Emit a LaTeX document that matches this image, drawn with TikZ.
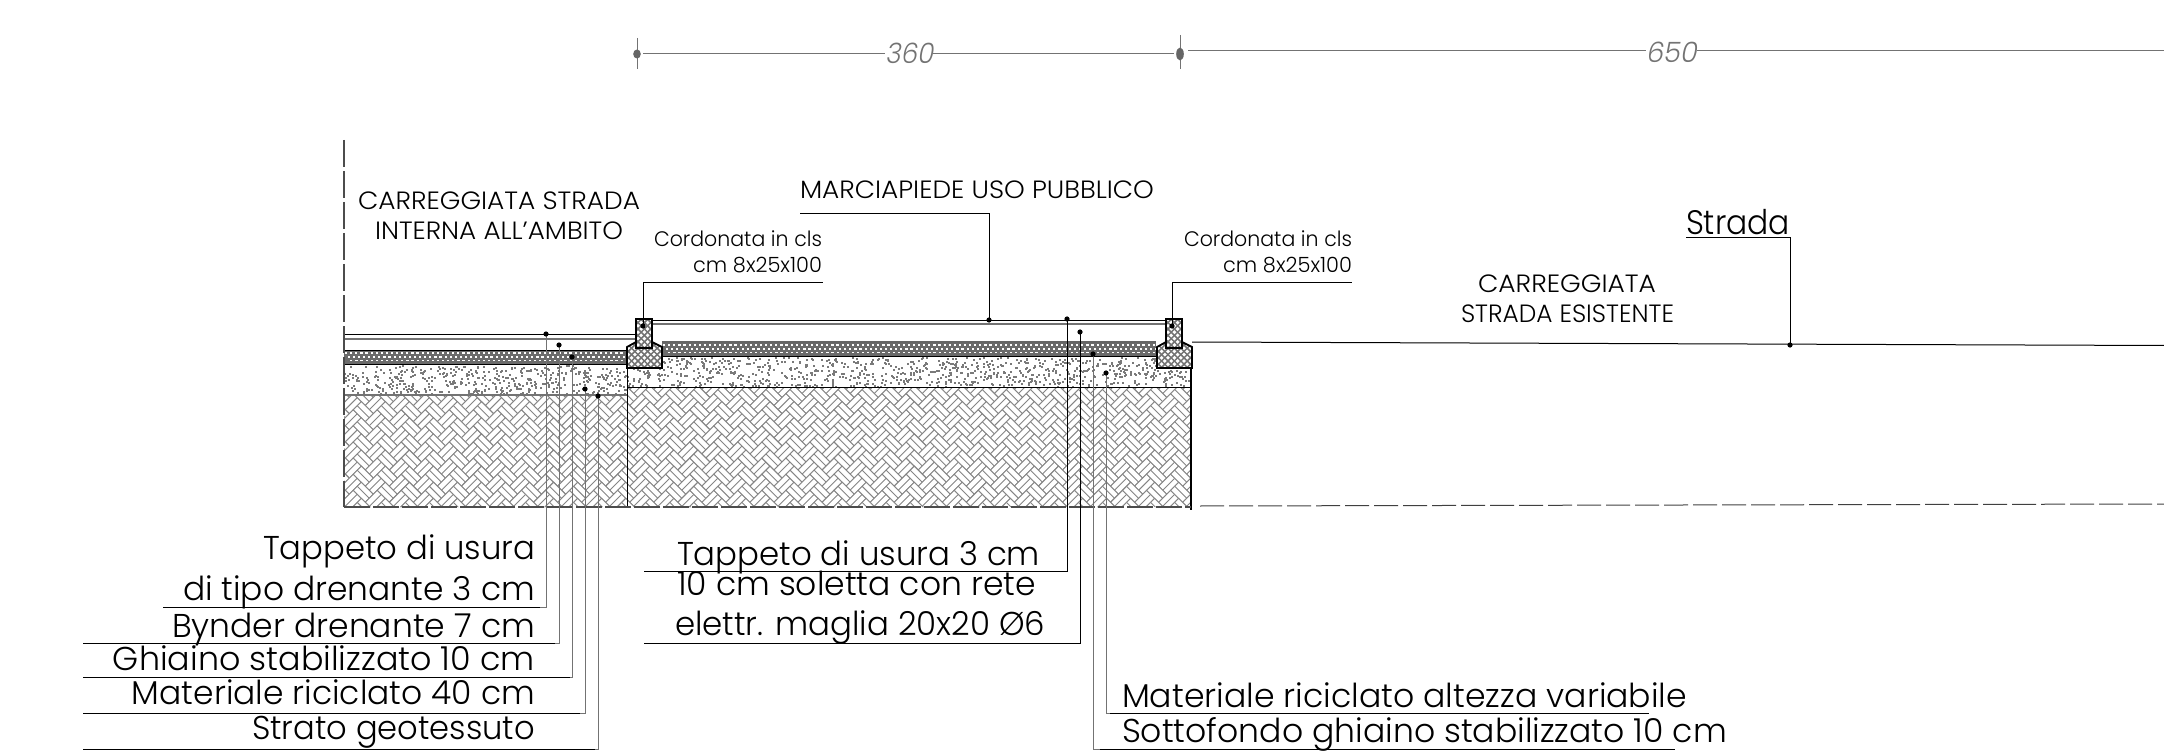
\documentclass[tikz,border=0pt]{standalone}
\usepackage{fontspec}
\usepackage{graphicx}
\setmainfont{Poppins Light}
\newfontfamily\dimfont[FakeSlant=0.2]{Poppins Light}
\newcommand\fw[3]{{\fontsize{#1}{#1}\selectfont\resizebox{#2pt}{\height}{#3}}}
\tikzset{
 lbl/.style={inner sep=0pt,outer sep=0pt,text=black},
 hbk/.style={draw=black!48,line width=0.9pt,fill=white},
 thin1/.style={draw=black,line width=0.9pt},
 graylin/.style={draw=black!55,line width=1.1pt},
 curb/.style={draw=black,line width=1.8pt},
 dimln/.style={draw=black!55,line width=1pt},
}
\begin{document}
\begin{tikzpicture}[x=1pt,y=-1pt]
\useasboundingbox (0,0) rectangle (2164,754);
% ---- herringbone (double bricks)
\def\Lb{17}\def\Wb{11.4}\def\Wh{5.7}
\begin{scope}
\clip (344,395) rectangle (627,507) (627,387) rectangle (1191,507);
\begin{scope}[shift={(770,450)},rotate=-45]
\foreach \a in {-7,...,7}{
 \foreach \b in {-21,...,21}{
  \pgfmathsetmacro\ox{\a*\Wb+\b*\Lb}
  \pgfmathsetmacro\oy{\a*\Wb-\b*\Lb}
   \draw[hbk] (\ox,\oy) rectangle ++(\Lb,\Wb);
   \draw[hbk] (\ox,\oy+\Wh) -- ++(\Lb,0);
   \draw[hbk] (\ox+\Lb,\oy+\Wb-\Lb) rectangle ++(\Wb,\Lb);
   \draw[hbk] (\ox+\Lb+\Wh,\oy+\Wb-\Lb) -- ++(0,\Lb);
 }}
\end{scope}
\end{scope}
% ---- gravel
\pgfmathsetseed{4217}
\foreach \i in {1,...,470}{
 \pgfmathsetmacro\gx{344+283*rnd}\pgfmathsetmacro\gy{365+29*rnd}
 \fill[black!52] (\gx,\gy) rectangle ++(2,2);
}
\foreach \i in {1,...,900}{
 \pgfmathsetmacro\gx{627+564*rnd}\pgfmathsetmacro\gy{357+29*rnd}
 \fill[black!52] (\gx,\gy) rectangle ++(2,2);
}
% ---- dark wearing layers
\fill[black!58] (344,350) rectangle (627,364);
\fill[black!58] (662,342) rectangle (1156,356);
\foreach \r in {0,1,2}{
 \pgfmathsetmacro\yy{352+\r*3.9}
 \pgfmathsetmacro\sh{\r*2.6}
 \foreach \c in {0,...,55}{\fill[white] (345+\sh+\c*5.1,\yy) rectangle ++(2.2,1.6);}
 \pgfmathsetmacro\yz{344+\r*3.9}
 \foreach \c in {0,...,96}{\fill[white] (663+\sh+\c*5.1,\yz) rectangle ++(2.2,1.6);}
}
% ---- layer lines
\draw[thin1] (344,350) -- (627,350);
\draw[thin1] (344,364) -- (627,364);
\draw[graylin] (344,395) -- (627,395);
\draw[graylin,draw=black!60] (662,342) -- (1156,342);
\draw[thin1] (662,356) -- (1156,356);
\draw[thin1] (627,387) -- (1191,387);
\draw[thin1] (344,334) -- (636,334);
\draw[graylin] (344,339) -- (636,339);
\draw[thin1] (652,320) -- (1165,320);
\draw[graylin] (652,324) -- (1165,324);
\draw[thin1] (627,368) -- (627,507);
\draw[line width=1.8pt,draw=black] (1191,347) -- (1191,510);
% ---- road on the right
\draw[draw=black,line width=1pt] (1192,342) -- (2164,345.5);
% ---- outline dashes
\draw[draw=black!70,line width=1.1pt,dash pattern=on 27pt off 4pt] (344,140) -- (344,507);
\draw[draw=black!70,line width=1.1pt,dash pattern=on 26pt off 3pt] (344,507) -- (1191,507);
\draw[draw=black!75,line width=1pt,dash pattern=on 24pt off 5pt] (1200,506) -- (2164,504);
% ---- kerbs
\newcommand\kerb[1]{%
 \begin{scope}[shift={(#1,0)}]
  \path[fill=white] (0,347)--(9,342)--(9,319)--(25,319)--(25,342)--(35,347)--(35,368)--(0,368)--cycle;
  \begin{scope}
   \clip (0,347)--(9,342)--(9,319)--(25,319)--(25,342)--(35,347)--(35,368)--(0,368)--cycle;
   \foreach \k in {-10,...,10}{
    \draw[black!55,line width=1.5pt] (\k*6.4-40,310) -- ++(70,70);
    \draw[black!55,line width=1.5pt] (\k*6.4+30,310) -- ++(-70,70);
   }
  \end{scope}
  \draw[curb,line join=miter] (9,342)--(0,347)--(0,368)--(35,368)--(35,347)--(25,342);
  \draw[curb] (9,319) rectangle (25,348);
 \end{scope}}
\kerb{627}
\kerb{1157}
% ---- named anchors for leaders
\coordinate (dA) at (546,334); \coordinate (eA) at (163,607);
\coordinate (dB) at (559,345); \coordinate (eB) at (83,643);
\coordinate (dC) at (572,357); \coordinate (eC) at (83,677);
\coordinate (dD) at (585,389); \coordinate (eD) at (83,713);
\coordinate (dE) at (598,396); \coordinate (eE) at (83,749);
\coordinate (dF) at (1067,319); \coordinate (eF) at (644,571);
\coordinate (dG) at (1080,332); \coordinate (eG) at (644,643);
\coordinate (dH) at (1093,354); \coordinate (eH) at (1675,749);
\coordinate (dI) at (1106,373); \coordinate (eI) at (1649,713);
\coordinate (dJ) at (989,320); \coordinate (eJ) at (800,214);
\coordinate (dK) at (643,326); \coordinate (eK) at (823,282);
\coordinate (dL) at (1172,326); \coordinate (eL) at (1352,282);
\coordinate (dM) at (1790,345); \coordinate (eM) at (1686,238);
\foreach \d/\e/\st in {dA/eA/black!55,dB/eB/black!55,dC/eC/black!55,dD/eD/black!55,dE/eE/black!55,dF/eF/black,dG/eG/black,dH/eH/black!55,dI/eI/black!55,dJ/eJ/black,dK/eK/black,dL/eL/black,dM/eM/black}{
 \draw[line width=1pt,draw=\st] (\d) |- (\e);
 \fill[black] (\d) circle (2.6);
}
\foreach \y/\xa/\xb in {607/163/540,643/83/555,677/83/570,713/83/580,749/83/595,571/644/1060,643/644/1075,749/1100/1675,713/1110/1649}{
 \draw[black,line width=0.9pt] (\xa,\y) -- (\xb,\y);
}
% ---- dimension line
\coordinate (t1) at (637,54); \coordinate (t2) at (1180,54); \coordinate (t3) at (2164,51);
\node[lbl,anchor=base,text=black!55] (n360) at (909,64) {\fontsize{28}{28}\dimfont\resizebox{48pt}{\height}{360}};
\node[lbl,anchor=base,text=black!55] (n650) at (1671,63) {\fontsize{28}{28}\dimfont\resizebox{51pt}{\height}{650}};
\draw[dimln] ([xshift=6pt]t1) -- (n360.west |- t1);
\draw[dimln] (n360.east |- t1) -- ([xshift=-6pt]t2);
\draw[dimln] ([xshift=8pt]t2 |- t3) -- (n650.west |- t3);
\draw[dimln] (n650.east |- t3) -- (t3);
\draw[dimln] (637,38) -- (637,69);
\draw[dimln] (1180,35) -- (1180,69);
\fill[black!60] (t1) ellipse (3.8 and 4.5);
\fill[black!60] (t2) ellipse (3.8 and 6.5);
% ---- texts
\node[lbl,anchor=base east] (a1) at (535,559) {\fw{33}{272}{Tappeto di usura}};
\node[lbl,anchor=base east] (a2) at (535,600) {\fw{33}{352}{di tipo drenante 3 cm}};
\node[lbl,anchor=base east] (a3) at (535,637) {\fw{33}{363}{Bynder drenante 7 cm}};
\node[lbl,anchor=base east] (a4) at (535,670) {\fw{33}{422}{Ghiaino stabilizzato 10 cm}};
\node[lbl,anchor=base east] (a5) at (535,704) {\fw{33}{403}{Materiale riciclato 40 cm}};
\node[lbl,anchor=base east] (a6) at (535,739) {\fw{33}{283}{Strato geotessuto}};
\node[lbl,anchor=base west] (b1) at (677,565) {\fw{33}{363}{Tappeto di usura 3 cm}};
\node[lbl,anchor=base west] (b2) at (677,595) {\fw{33}{359}{10 cm soletta con rete}};
\node[lbl,anchor=base west] (b3) at (675,635) {\fw{33}{370}{elettr. maglia 20x20 Ø6}};
\node[lbl,anchor=base west] (c1) at (1122,707) {\fw{33}{565}{Materiale riciclato altezza variabile}};
\node[lbl,anchor=base west] (c2) at (1122,742) {\fw{33}{605}{Sottofondo ghiaino stabilizzato 10 cm}};
\node[lbl,anchor=base west] (d1) at (358,210) {\fw{25}{282}{CARREGGIATA STRADA}};
\node[lbl,anchor=base west] (d2) at (375,240) {\fw{25}{248}{INTERNA ALL'AMBITO}};
\node[lbl,anchor=base west] (d3) at (800,199) {\fw{25}{354}{MARCIAPIEDE USO PUBBLICO}};
\node[lbl,anchor=base east] (e1) at (822,247) {\fw{21}{168}{Cordonata in cls}};
\node[lbl,anchor=base east] (e2) at (822,273) {\fw{21}{129}{cm 8x25x100}};
\node[lbl,anchor=base east] (e3) at (1352,247) {\fw{21}{168}{Cordonata in cls}};
\node[lbl,anchor=base east] (e4) at (1352,273) {\fw{21}{129}{cm 8x25x100}};
\node[lbl,anchor=base west] (f1) at (1686,235) {\fw{34}{104}{Strada}};
\node[lbl,anchor=base west] (f2) at (1478,293) {\fw{25}{178}{CARREGGIATA}};
\node[lbl,anchor=base west] (f3) at (1461,323) {\fw{25}{213}{STRADA ESISTENTE}};
\end{tikzpicture}
\end{document}
